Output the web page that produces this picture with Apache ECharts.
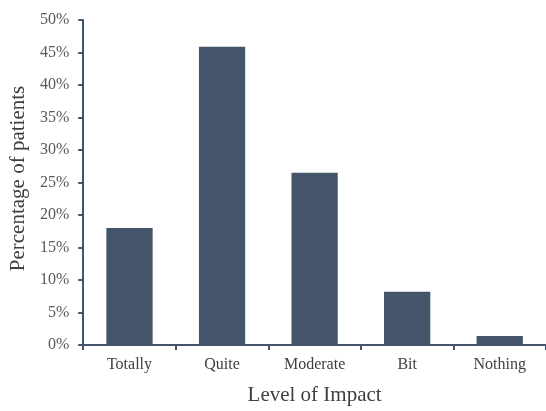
<!DOCTYPE html>
<html>
<head>
<meta charset="utf-8">
<script src="https://cdn.jsdelivr.net/npm/echarts@6/dist/echarts.min.js"></script>
<style>
  html, body { margin: 0; padding: 0; background: #fff; }
  #chart { width: 546px; height: 411px; }
</style>
</head>
<body>
<div id="chart"></div>
<script>
var categories = ["Totally", "Quite", "Moderate", "Bit", "Nothing"];
var values = [18.0, 45.9, 26.5, 8.2, 1.4];

var chart = echarts.init(document.getElementById("chart"));
var font = "Liberation Serif";
var axisColor = "#44546a";

chart.setOption({
  animation: false,
  grid: { left: 82, right: 0, top: 20, bottom: 61 },
  xAxis: {
    type: "category",
    data: categories,
    name: "Level of Impact",
    nameLocation: "middle",
    nameGap: 40,
    nameTextStyle: { fontFamily: font, fontSize: 21, color: "#404040" },
    axisLine: { lineStyle: { color: axisColor, width: 2 } },
    axisTick: { show: true, alignWithLabel: false, length: 5, lineStyle: { color: axisColor, width: 2 } },
    axisLabel: { fontFamily: font, fontSize: 16, color: "#404040", margin: 12 }
  },
  yAxis: {
    type: "value",
    min: 0,
    max: 50,
    interval: 5,
    name: "Percentage of patients",
    nameLocation: "middle",
    nameGap: 53,
    nameTextStyle: { fontFamily: font, fontSize: 21, color: "#404040", padding: [0, 0, 0, 8] },
    axisLine: { show: true, lineStyle: { color: axisColor, width: 2 } },
    axisTick: { show: true, length: 5, lineStyle: { color: axisColor, width: 2 } },
    splitLine: { show: false },
    axisLabel: { fontFamily: font, fontSize: 16, color: "#595959", margin: 14,
      formatter: function (v) { return v + "%"; } }
  },
  series: [{
    type: "bar",
    data: values,
    barWidth: "50%",
    itemStyle: { color: "#44546a" }
  }]
});
</script>
</body>
</html>
